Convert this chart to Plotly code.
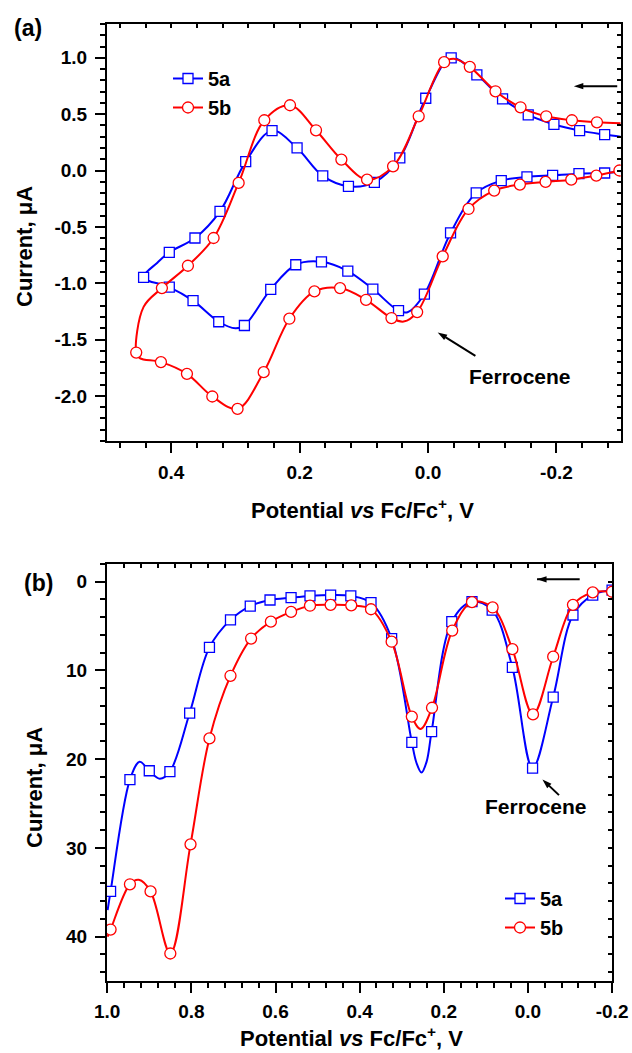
import plotly.graph_objects as go

W, H = 632, 1053
FONT = "Liberation Sans, Arial, Helvetica, sans-serif"
BLUE = "#0000FF"
RED = "#FF0000"

# ---------------- Panel (a): cyclic voltammograms ----------------
a_5a_mark_V = [-0.275, -0.236, -0.196, -0.156, -0.116, -0.076, -0.036, 0.0036, 0.044, 0.0836,
               0.124, 0.164, 0.204, 0.243, 0.284, 0.324, 0.363, 0.403, 0.443, 0.403,
               0.366, 0.326, 0.286, 0.245, 0.206, 0.166, 0.125, 0.086, 0.046, 0.0057,
               -0.035, -0.075, -0.114, -0.154, -0.194, -0.235, -0.275]
a_5a_mark_I = [0.319, 0.354, 0.41, 0.494, 0.636, 0.849, 1.0, 0.641, 0.112, -0.105,
               -0.14, -0.048, 0.20, 0.354, 0.079, -0.362, -0.599, -0.726, -0.948, -1.034,
               -1.155, -1.342, -1.375, -1.055, -0.836, -0.81, -0.892, -1.052, -1.244, -1.096,
               -0.554, -0.199, -0.09, -0.057, -0.043, -0.028, -0.022]
a_5a_line_V = [-0.30, -0.275, -0.236, -0.196, -0.156, -0.116, -0.076, -0.036, 0.0036, 0.044, 0.0836,
               0.124, 0.164, 0.204, 0.243, 0.284, 0.324, 0.363, 0.403, 0.422, 0.443, 0.403,
               0.366, 0.326, 0.30, 0.286, 0.245, 0.206, 0.166, 0.125, 0.086, 0.046, 0.032, 0.0057,
               -0.035, -0.075, -0.114, -0.154, -0.194, -0.235, -0.275, -0.30]
a_5a_line_I = [0.30, 0.319, 0.354, 0.41, 0.494, 0.636, 0.849, 1.0, 0.641, 0.112, -0.105,
               -0.14, -0.048, 0.20, 0.354, 0.079, -0.362, -0.599, -0.726, -0.82, -0.948, -1.034,
               -1.155, -1.342, -1.40, -1.375, -1.055, -0.836, -0.81, -0.892, -1.052, -1.244, -1.258, -1.096,
               -0.554, -0.199, -0.09, -0.057, -0.043, -0.028, -0.022, -0.012]

a_5b_mark_V = [-0.263, -0.224, -0.184, -0.144, -0.105, -0.065, -0.025, 0.0146, 0.0545, 0.095,
               0.135, 0.1745, 0.215, 0.255, 0.295, 0.334, 0.374, 0.4145, 0.4545, 0.416,
               0.3755, 0.336, 0.2967, 0.256, 0.216, 0.177, 0.137, 0.0966, 0.057, 0.017,
               -0.0228, -0.063, -0.103, -0.143, -0.183, -0.223, -0.262, -0.298]
a_5b_mark_I = [0.428, 0.446, 0.481, 0.561, 0.703, 0.92, 0.961, 0.481, 0.037, -0.081,
               0.097, 0.357, 0.579, 0.446, -0.11, -0.599, -0.845, -1.043, -1.615, -1.70,
               -1.804, -2.005, -2.115, -1.789, -1.315, -1.073, -1.043, -1.147, -1.309, -1.256,
               -0.762, -0.341, -0.178, -0.125, -0.101, -0.081, -0.045, 0.0]
a_5b_line_V = [-0.30, -0.263, -0.224, -0.184, -0.144, -0.105, -0.065, -0.042, -0.025, 0.0146, 0.0545, 0.095,
               0.135, 0.1745, 0.215, 0.255, 0.295, 0.334, 0.374, 0.4145, 0.443, 0.4545, 0.449, 0.416,
               0.3755, 0.336, 0.2967, 0.256, 0.216, 0.177, 0.137, 0.0966, 0.057, 0.038, 0.017,
               -0.0228, -0.063, -0.103, -0.143, -0.183, -0.223, -0.262, -0.298]
a_5b_line_I = [0.42, 0.428, 0.446, 0.481, 0.561, 0.703, 0.92, 0.99, 0.961, 0.481, 0.037, -0.081,
               0.097, 0.357, 0.579, 0.446, -0.11, -0.599, -0.845, -1.043, -1.21, -1.615, -1.665, -1.70,
               -1.804, -2.005, -2.115, -1.789, -1.315, -1.073, -1.043, -1.147, -1.309, -1.34, -1.256,
               -0.762, -0.341, -0.178, -0.125, -0.101, -0.081, -0.045, 0.0]

a_xtick_vals = [0.4, 0.2, 0.0, -0.2]
a_xtick_text = ["0.4", "0.2", "0.0", "-0.2"]
a_ytick_vals = [1.0, 0.5, 0.0, -0.5, -1.0, -1.5, -2.0]
a_ytick_text = ["1.0", "0.5", "0.0", "-0.5", "-1.0", "-1.5", "-2.0"]

# ---------------- Panel (b): differential pulse voltammograms ----------------
b_5a_mark_V = [0.992, 0.946, 0.900, 0.851, 0.804, 0.757, 0.707, 0.66, 0.613, 0.563, 0.518, 0.469, 0.421,
               0.373, 0.324, 0.276, 0.229, 0.181, 0.133, 0.085, 0.037, -0.011, -0.06, -0.107, -0.154, -0.2]
b_5a_mark_I = [34.9, 22.3, 21.3, 21.4, 14.8, 7.4, 4.3, 2.74, 2.06, 1.8, 1.6, 1.5, 1.6,
               2.36, 6.4, 18.1, 16.9, 4.5, 2.25, 3.2, 9.65, 21.0, 13.0, 3.75, 1.5, 0.94]
b_5a_line_V = [0.999, 0.992, 0.946, 0.923, 0.900, 0.875, 0.851, 0.804, 0.757, 0.707, 0.66, 0.613, 0.563,
               0.518, 0.469, 0.421, 0.373, 0.324, 0.276, 0.265, 0.253, 0.241, 0.229, 0.181, 0.133, 0.085,
               0.037, -0.011, -0.06, -0.107, -0.154, -0.2]
b_5a_line_I = [37.0, 34.9, 22.3, 20.3, 21.3, 22.2, 21.4, 14.8, 7.4, 4.3, 2.74, 2.06, 1.8,
               1.6, 1.5, 1.6, 2.36, 6.4, 18.1, 20.4, 21.5, 20.3, 16.9, 4.5, 2.25, 3.2,
               9.65, 21.0, 13.0, 3.75, 1.5, 0.94]

b_5b_mark_V = [0.992, 0.946, 0.897, 0.85, 0.802, 0.757, 0.707, 0.658, 0.611, 0.563, 0.518, 0.469, 0.42,
               0.373, 0.324, 0.276, 0.228, 0.18, 0.133, 0.084, 0.037, -0.012, -0.06, -0.107, -0.154, -0.2]
b_5b_mark_I = [39.2, 34.1, 34.9, 41.9, 29.6, 17.66, 10.6, 6.4, 4.5, 3.4, 2.7, 2.6, 2.66,
               3.1, 6.76, 15.2, 14.2, 5.5, 2.3, 2.9, 7.6, 14.95, 8.45, 2.6, 1.2, 1.13]
b_5b_line_V = [0.999, 0.992, 0.946, 0.925, 0.897, 0.85, 0.802, 0.757, 0.707, 0.658, 0.611, 0.563, 0.518,
               0.469, 0.42, 0.373, 0.324, 0.276, 0.255, 0.228, 0.18, 0.133, 0.084, 0.037, -0.012,
               -0.06, -0.107, -0.154, -0.2]
b_5b_line_I = [40.0, 39.2, 34.1, 33.6, 34.9, 41.9, 29.6, 17.66, 10.6, 6.4, 4.5, 3.4, 2.7,
               2.6, 2.66, 3.1, 6.76, 15.2, 16.6, 14.2, 5.5, 2.3, 2.9, 7.6, 14.95,
               8.45, 2.6, 1.2, 1.13]

b_xtick_vals = [1.0, 0.8, 0.6, 0.4, 0.2, 0.0, -0.2]
b_xtick_text = ["1.0", "0.8", "0.6", "0.4", "0.2", "0.0", "-0.2"]
b_ytick_vals = [0, 10, 20, 30, 40]
b_ytick_text = ["0", "10", "20", "30", "40"]

series_names = ["5a", "5b"]

# annotation arrows (tail -> head), in data units of each panel
a_arrows = [((-0.2946, 0.748), (-0.227, 0.748)),      # scan direction
            ((-0.0737, -1.644), (-0.015, -1.437))]    # ferrocene
b_arrows = [((-0.123, -0.27), (-0.0216, -0.27)),      # scan direction
            ((-0.0738, 24.05), (-0.0344, 22.28))]     # ferrocene

# ---------------- figure ----------------
fig = go.Figure()


def add_series(xa, ya, lineV, lineI, markV, markI, color, symbol, msize, name, legend):
    fig.add_trace(go.Scatter(x=lineV, y=lineI, mode="lines", xaxis=xa, yaxis=ya,
                             line=dict(color=color, width=2, shape="spline", smoothing=1.0),
                             showlegend=False, hoverinfo="skip"))
    fig.add_trace(go.Scatter(x=markV, y=markI, mode="markers", xaxis=xa, yaxis=ya,
                             marker=dict(symbol=symbol, size=msize, color="white",
                                         line=dict(color=color, width=1.3)),
                             showlegend=False, hoverinfo="skip"))
    fig.add_trace(go.Scatter(x=[None], y=[None], mode="lines+markers", xaxis=xa, yaxis=ya,
                             name=name, legend=legend,
                             line=dict(color=color, width=2),
                             marker=dict(symbol=symbol, size=msize, color="white",
                                         line=dict(color=color, width=1.3))))


def add_arrow(xa, ya, tail, head):
    fig.add_trace(go.Scatter(x=[tail[0], head[0]], y=[tail[1], head[1]], mode="lines+markers",
                             xaxis=xa, yaxis=ya, showlegend=False, hoverinfo="skip",
                             line=dict(color="black", width=2),
                             marker=dict(symbol="arrow", size=10, angleref="previous",
                                         color="black", line=dict(width=0))))


add_series("x", "y", a_5a_line_V, a_5a_line_I, a_5a_mark_V, a_5a_mark_I, BLUE, "square", 10, series_names[0], "legend")
add_series("x", "y", a_5b_line_V, a_5b_line_I, a_5b_mark_V, a_5b_mark_I, RED, "circle", 11, series_names[1], "legend")
add_series("x2", "y2", b_5a_line_V, b_5a_line_I, b_5a_mark_V, b_5a_mark_I, BLUE, "square", 10, series_names[0], "legend2")
add_series("x2", "y2", b_5b_line_V, b_5b_line_I, b_5b_mark_V, b_5b_mark_I, RED, "circle", 11, series_names[1], "legend2")
for t, h in a_arrows:
    add_arrow("x", "y", t, h)
for t, h in b_arrows:
    add_arrow("x2", "y2", t, h)

# dummy traces so that the overlay (inner tick) axes are drawn
fig.add_trace(go.Scatter(x=[None], y=[None], xaxis="x3", yaxis="y3", showlegend=False, hoverinfo="skip"))
fig.add_trace(go.Scatter(x=[None], y=[None], xaxis="x4", yaxis="y4", showlegend=False, hoverinfo="skip"))

tickfont = dict(family=FONT, size=19, color="black", weight="bold")

dom_a_x = [107 / W, 620.7 / W]
dom_a_y = [1 - 441 / H, 1 - 24 / H]
dom_b_x = [107 / W, 612.3 / W]
dom_b_y = [1 - 981 / H, 1 - 564 / H]

a_xrange = [0.5, -0.3]
a_yrange = [-2.4, 1.3]
b_xrange = [1.0005, -0.2005]
b_yrange = [45, -2]


def main_axis(domain, anchor, rng, tv, tt, minor_dtick, standoff):
    return dict(domain=domain, anchor=anchor, range=rng, autorange=False, automargin=False,
                tickmode="array", tickvals=tv, ticktext=tt,
                ticks="outside", ticklen=10, tickwidth=2, tickcolor="black",
                minor=dict(tickmode="linear", tick0=0, dtick=minor_dtick, ticks="outside",
                           ticklen=5, tickwidth=1.5, tickcolor="black"),
                showline=True, linewidth=2, linecolor="black", mirror=True,
                showgrid=False, zeroline=False, tickfont=tickfont,
                ticklabelstandoff=standoff)


def inner_axis(overlay, anchor, side, rng, dtick):
    return dict(overlaying=overlay, anchor=anchor, side=side, range=rng, autorange=False,
                automargin=False,
                tickmode="linear", tick0=0, dtick=dtick, ticks="inside", ticklen=4,
                tickwidth=1.5, tickcolor="black", showticklabels=False,
                showline=False, showgrid=False, zeroline=False)


legfont = dict(family=FONT, size=20, color="black", weight="bold")

fig.update_layout(
    width=W, height=H, autosize=False,
    margin=dict(l=0, r=0, t=0, b=0, pad=0, autoexpand=False),
    paper_bgcolor="white", plot_bgcolor="white",
    font=dict(family=FONT, color="black"),
    xaxis=main_axis(dom_a_x, "y", a_xrange, a_xtick_vals, a_xtick_text, 0.04, 3),
    yaxis=main_axis(dom_a_y, "x", a_yrange, a_ytick_vals, a_ytick_text, 0.1, 4),
    xaxis2=main_axis(dom_b_x, "y2", b_xrange, b_xtick_vals, b_xtick_text, 0.04, 2),
    yaxis2=main_axis(dom_b_y, "x2", b_yrange, b_ytick_vals, b_ytick_text, 2, 4),
    xaxis3=inner_axis("x", "y", "top", a_xrange, 0.04),
    yaxis3=inner_axis("y", "x", "right", a_yrange, 0.1),
    xaxis4=inner_axis("x2", "y2", "top", b_xrange, 0.04),
    yaxis4=inner_axis("y2", "x2", "right", b_yrange, 2),
    legend=dict(x=168 / W, y=1 - 59 / H, xanchor="left", yanchor="top",
                bgcolor="rgba(0,0,0,0)", borderwidth=0, itemwidth=30,
                font=legfont, tracegroupgap=0),
    legend2=dict(x=500 / W, y=1 - 879 / H, xanchor="left", yanchor="top",
                 bgcolor="rgba(0,0,0,0)", borderwidth=0, itemwidth=30,
                 font=legfont, tracegroupgap=0),
    showlegend=True,
)

titlefont = dict(family=FONT, size=22, color="black", weight="bold")
xtitle = "Potential <i>vs</i> Fc/Fc<sup>+</sup>, V"
ytitle = "Current, \u03bcA"

annots = [
    dict(text="(a)", x=28 / W, y=1 - 28 / H, font=dict(family=FONT, size=23, color="black", weight="bold")),
    dict(text="(b)", x=38 / W, y=1 - 583 / H, font=dict(family=FONT, size=23, color="black", weight="bold")),
    dict(text=ytitle, x=25 / W, y=1 - 247 / H, textangle=-90, font=titlefont),
    dict(text=ytitle, x=34 / W, y=1 - 788 / H, textangle=-90, font=titlefont),
    dict(text=xtitle, x=362 / W, y=1 - 509 / H, font=titlefont),
    dict(text=xtitle, x=351 / W, y=1 - 1037 / H, font=titlefont),
]
for a in annots:
    fig.add_annotation(xref="paper", yref="paper", showarrow=False, xanchor="center", yanchor="middle", **a)

# Ferrocene labels
fig.add_annotation(xref="x", yref="y", x=-0.1434, y=-1.826, text="Ferrocene", showarrow=False,
                   font=dict(family=FONT, size=21, color="black", weight="bold"))
fig.add_annotation(xref="x2", yref="y2", x=-0.018, y=25.3, text="Ferrocene", showarrow=False,
                   font=dict(family=FONT, size=21, color="black", weight="bold"))

fig.write_html("out.html")
